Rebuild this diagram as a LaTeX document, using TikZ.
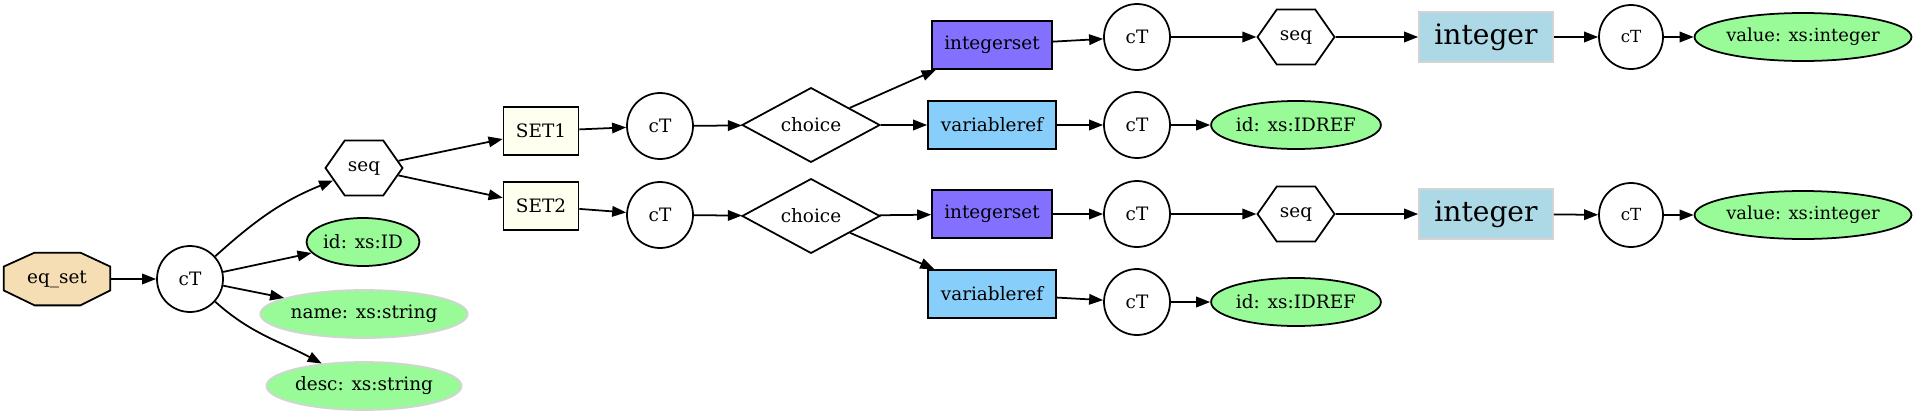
\documentclass[tikz,border=0pt]{standalone}
\usepackage{fontspec}
\setmainfont{DejaVu Serif}
\usetikzlibrary{shapes.geometric, shapes.symbols, arrows.meta, backgrounds}
\definecolor{wheat}{HTML}{F5DEB3}
\definecolor{ivory}{HTML}{FFFFF0}
\definecolor{palegreen}{HTML}{98FB98}
\definecolor{lightslateblue}{HTML}{8470FF}
\definecolor{lightskyblue}{HTML}{87CEFA}
\definecolor{lightblue}{HTML}{ADD8E6}
\definecolor{lightgray}{HTML}{D3D3D3}
\tikzset{
->, % every connector is directed
>={Triangle[length=8pt, width=6pt]}, % filled heads as in the schema graph
x=0.02cm, y=-0.02cm, % one unit is one pixel of the layout, y downwards
every picture/.style={line width=1pt}, % strokes a bit heavier than default
every node/.style={font=\fontsize{10.5}{12}\selectfont}, % text size of the labels
rootbox/.style={rectangle, minimum width=2.1cm, minimum height=1.02cm}, % octagon is drawn behind it
ctnode/.style={circle, draw, minimum size=1.32cm, inner sep=0pt}, % complexType
smallct/.style={ctnode, minimum size=1.28cm, font=\fontsize{9.5}{11}\selectfont},
seqnode/.style={signal, signal to=west and east, signal pointer angle=110, draw, minimum width=1.54cm, minimum height=1.1cm, inner sep=0pt},
choicenode/.style={diamond, draw, minimum width=2.76cm, minimum height=1.34cm, inner sep=0pt},
setbox/.style={rectangle, draw, fill=ivory, minimum width=1.5cm, minimum height=0.96cm},
isetbox/.style={rectangle, draw, fill=lightslateblue, minimum width=2.4cm, minimum height=0.96cm},
vrefbox/.style={rectangle, draw, fill=lightskyblue, minimum width=2.56cm, minimum height=0.96cm},
intbox/.style={rectangle, draw=lightgray, fill=lightblue, minimum width=2.68cm, minimum height=1cm, font=\fontsize{16}{19}\selectfont},
reqattr/.style={ellipse, draw, fill=palegreen, inner sep=0pt, minimum height=0.96cm}, % required attribute
optattr/.style={ellipse, draw=lightgray, fill=palegreen, inner sep=0pt, minimum height=0.96cm}, % optional attribute
valattr/.style={reqattr, minimum width=3.76cm, font=\fontsize{10.2}{12}\selectfont},
}
\begin{document}
\begin{tikzpicture}
\useasboundingbox (0,0) rectangle (1925,416);
% root and its attributes
\node[rootbox] (eqset) at (57,279) {eq\_set};
\node[ctnode] (ct) at (190,279) {cT};
\node[seqnode] (seq) at (364,168) {seq};
\node[reqattr, minimum width=2.26cm] (id) at (363,242) {id: xs:ID};
\node[optattr, minimum width=3.72cm] (name) at (364,314) {name: xs:string};
\node[optattr, minimum width=3.52cm] (desc) at (364,386) {desc: xs:string};
% the two sets
\node[setbox] (set1) at (541,131) {SET1};
\node[setbox] (set2) at (541,206) {SET2};
\node[ctnode] (ct1) at (660,126) {cT};
\node[ctnode] (ct2) at (660,215) {cT};
\node[choicenode] (choice1) at (811,125) {choice};
\node[choicenode] (choice2) at (811,216) {choice};
\node[isetbox] (iset1) at (992,45) {integerset};
\node[vrefbox] (vref1) at (992,125) {variableref};
\node[isetbox] (iset2) at (992,214) {integerset};
\node[vrefbox] (vref2) at (992,294) {variableref};
\node[ctnode] (ct3) at (1137,37) {cT};
\node[ctnode] (ct4) at (1137,125) {cT};
\node[ctnode] (ct5) at (1137,214) {cT};
\node[ctnode] (ct6) at (1137,302) {cT};
\node[seqnode] (seq1) at (1296,37) {seq};
\node[reqattr, minimum width=3.04cm] (idref1) at (1296,125) {id: xs:IDREF};
\node[seqnode] (seq2) at (1296,214) {seq};
\node[reqattr, minimum width=3.04cm] (idref2) at (1296,302) {id: xs:IDREF};
\node[intbox] (int1) at (1486,37) {integer};
\node[intbox] (int2) at (1486,214) {integer};
\node[smallct] (ct7) at (1631,37) {cT};
\node[smallct] (ct8) at (1631,215) {cT};
\node[valattr] (value1) at (1803,37) {value: xs:integer};
\node[valattr] (value2) at (1803,215) {value: xs:integer};
\begin{scope}[on background layer]
\draw[fill=wheat, line width=1pt] ([xshift=0.62cm]eqset.north west) -- ([xshift=-0.6cm]eqset.north east)
  -- ([yshift=-0.28cm]eqset.north east) -- ([yshift=0.3cm]eqset.south east)
  -- ([xshift=-0.6cm]eqset.south east) -- ([xshift=0.62cm]eqset.south west)
  -- ([yshift=0.3cm]eqset.south west) -- ([yshift=-0.28cm]eqset.north west) -- cycle;
\end{scope}
\draw
    (eqset) edge (ct)
    (ct) edge[out=42, in=-158] (seq)
    (ct) edge (id)
    (ct) edge (name)
    (ct) edge[out=-42, in=152] (desc)
    (seq) edge (set1)
    (seq) edge (set2)
    (set1) edge (ct1)
    (set2) edge (ct2)
    (ct1) edge (choice1)
    (ct2) edge (choice2)
    (choice1) edge (iset1)
    (choice1) edge (vref1)
    (choice2) edge (iset2)
    (choice2) edge (vref2)
    (iset1) edge (ct3)
    (vref1) edge (ct4)
    (iset2) edge (ct5)
    (vref2) edge (ct6)
    (ct3) edge (seq1)
    (ct4) edge (idref1)
    (ct5) edge (seq2)
    (ct6) edge (idref2)
    (seq1) edge (int1)
    (seq2) edge (int2)
    (int1) edge (ct7)
    (int2) edge (ct8)
    (ct7) edge (value1)
    (ct8) edge (value2)
    ;
\end{tikzpicture}
\end{document}
